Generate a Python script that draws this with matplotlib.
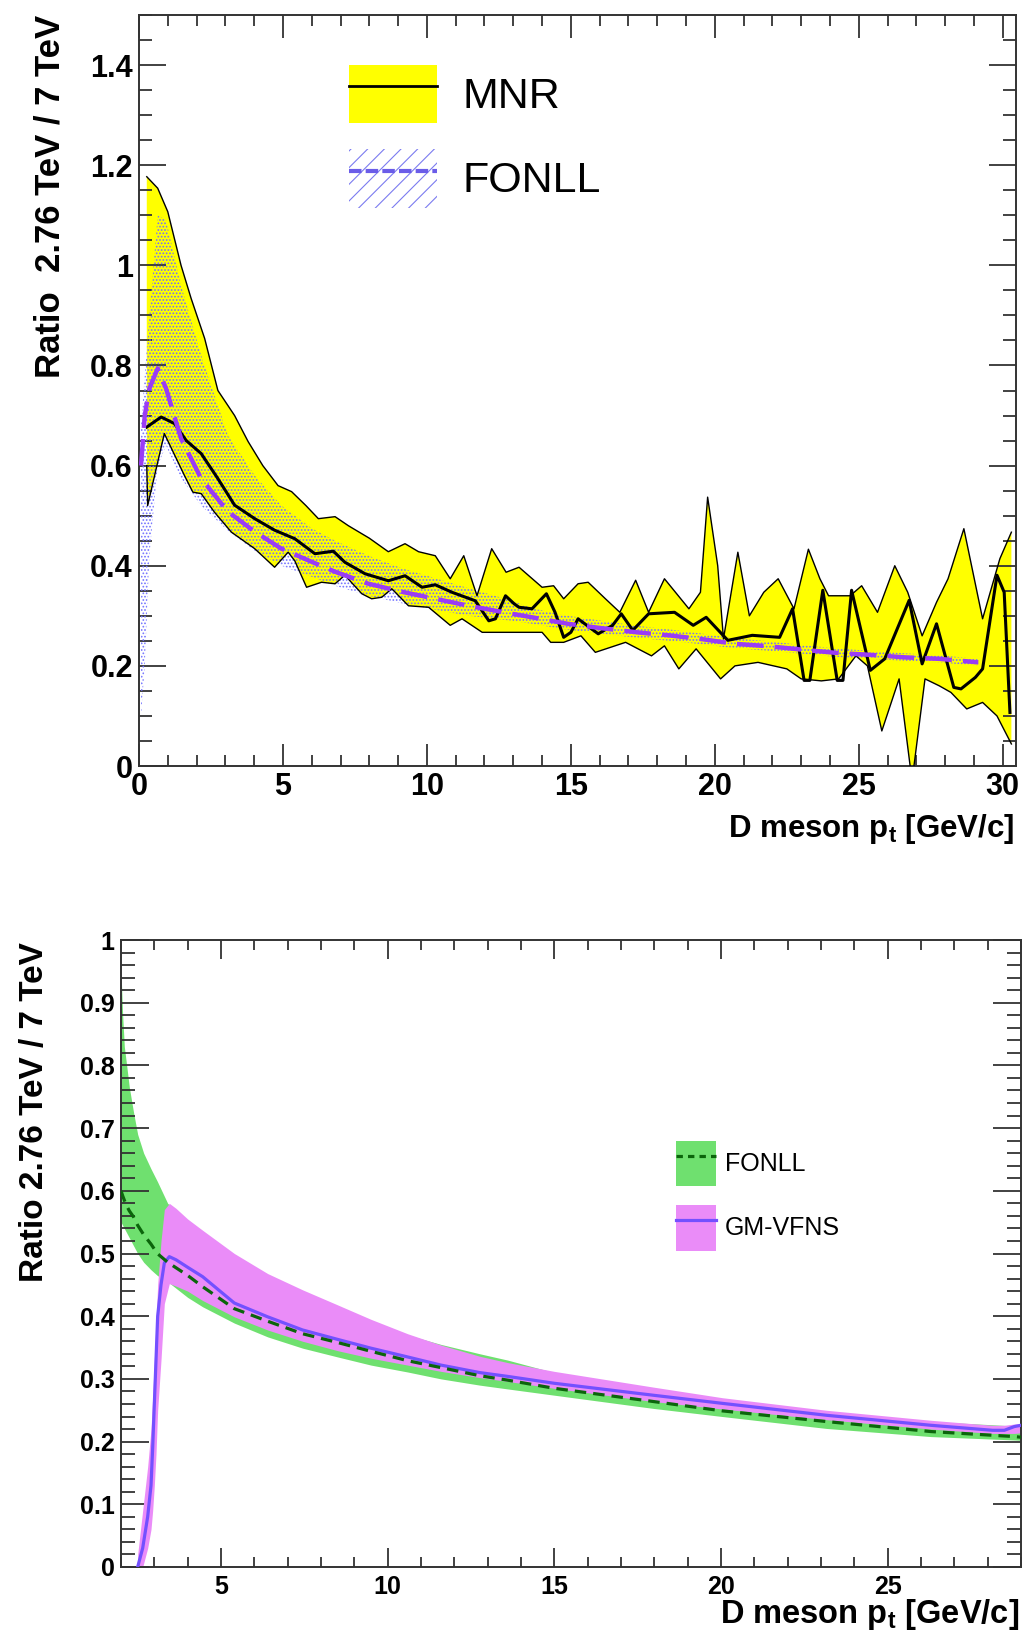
# ratio 2.76 TeV / 7 TeV, dos paneles estilo ROOT
import numpy as np
import matplotlib
matplotlib.use('Agg')
import matplotlib.pyplot as plt
from matplotlib.ticker import MultipleLocator, FormatStrFormatter
from matplotlib.patches import Patch
from matplotlib.lines import Line2D

plt.rcParams['font.family'] = 'Liberation Sans'
plt.rcParams['mathtext.fontset'] = 'custom'
plt.rcParams['mathtext.rm'] = 'Liberation Sans:bold'
plt.rcParams['mathtext.it'] = 'Liberation Sans:bold'
plt.rcParams['mathtext.bf'] = 'Liberation Sans:bold'
plt.rcParams['hatch.linewidth'] = 0.8

# ---------------- panel superior: MNR vs FONLL ----------------
# banda MNR, borde superior
mnr_up_x = [0.27, 0.65, 1.0, 1.46, 1.81, 2.28, 2.74, 3.32, 3.79, 4.3, 4.83, 5.3, 5.8, 6.23, 6.81,
            7.27, 8.0, 8.66, 9.24, 9.71, 10.29, 10.81, 11.28, 11.74, 12.25, 12.75, 13.2, 14.0, 14.4,
            14.75, 15.25, 15.6, 16.2, 16.7, 17.25, 17.7, 18.25, 19.1, 19.5, 19.75, 20.1, 20.3, 20.8,
            21.2, 21.7, 22.2, 22.75, 23.25, 23.65, 23.95, 24.7, 25.1, 25.65, 26.25, 26.7, 27.2, 27.7,
            28.1, 28.65, 29.3, 29.9, 30.3]
mnr_up_y = [1.177, 1.154, 1.107, 1.0, 0.934, 0.854, 0.75, 0.70, 0.648, 0.60, 0.56, 0.548, 0.52, 0.494,
            0.498, 0.48, 0.455, 0.428, 0.444, 0.428, 0.42, 0.374, 0.42, 0.34, 0.434, 0.387, 0.397,
            0.357, 0.36, 0.334, 0.364, 0.367, 0.334, 0.307, 0.371, 0.307, 0.374, 0.314, 0.347, 0.537,
            0.40, 0.254, 0.427, 0.30, 0.347, 0.374, 0.314, 0.433, 0.374, 0.34, 0.34, 0.36, 0.307, 0.40,
            0.347, 0.26, 0.327, 0.374, 0.474, 0.294, 0.414, 0.467]
# banda MNR, borde inferior
mnr_lo_x = [0.27, 0.30, 0.88, 1.58, 1.87, 2.16, 2.62, 3.21, 4.02, 4.71, 5.18, 5.41, 5.82, 6.34, 6.81,
            7.15, 7.74, 8.08, 8.43, 8.78, 9.36, 10.06, 10.81, 11.22, 11.92, 14.0, 14.3, 14.75, 15.35,
            15.85, 16.9, 17.8, 18.25, 18.75, 19.35, 20.2, 20.7, 21.5, 22.5, 23.0, 23.7, 24.3, 24.9,
            25.3, 25.8, 26.4, 26.85, 27.3, 27.8, 28.2, 28.75, 29.3, 29.8, 30.3]
mnr_lo_y = [0.60, 0.52, 0.664, 0.58, 0.547, 0.544, 0.507, 0.467, 0.434, 0.397, 0.427, 0.41, 0.357,
            0.367, 0.364, 0.381, 0.344, 0.334, 0.337, 0.354, 0.32, 0.317, 0.281, 0.294, 0.267, 0.267,
            0.247, 0.247, 0.26, 0.227, 0.247, 0.22, 0.24, 0.194, 0.234, 0.174, 0.20, 0.207, 0.194,
            0.174, 0.17, 0.174, 0.22, 0.20, 0.07, 0.174, -0.03, 0.174, 0.16, 0.147, 0.114, 0.127,
            0.10, 0.044]
# MNR central
mnr_x = [0.27, 0.77, 1.23, 1.64, 2.16, 2.74, 3.32, 4.02, 4.71, 5.41, 6.11, 6.75, 7.15, 7.85, 8.66,
         9.24, 9.83, 10.29, 10.87, 11.68, 12.15, 12.38, 12.73, 13.03, 13.2, 13.65, 14.15, 14.45,
         14.75, 15.0, 15.25, 15.95, 16.45, 16.75, 17.15, 17.7, 18.6, 19.25, 19.7, 20.45, 21.3,
         22.25, 22.7, 23.1, 23.3, 23.75, 24.25, 24.45, 24.75, 25.4, 25.9, 26.75, 27.2, 27.7, 28.3,
         28.55, 29.05, 29.3, 29.8, 30.05, 30.25]
mnr_y = [0.677, 0.697, 0.684, 0.65, 0.624, 0.574, 0.521, 0.494, 0.471, 0.454, 0.424, 0.429, 0.407,
         0.384, 0.37, 0.38, 0.357, 0.362, 0.347, 0.33, 0.29, 0.294, 0.34, 0.324, 0.317, 0.314, 0.344,
         0.307, 0.257, 0.267, 0.294, 0.264, 0.281, 0.304, 0.271, 0.304, 0.307, 0.281, 0.297, 0.251,
         0.261, 0.257, 0.314, 0.171, 0.171, 0.351, 0.171, 0.171, 0.351, 0.191, 0.214, 0.331, 0.204,
         0.284, 0.157, 0.154, 0.177, 0.194, 0.381, 0.347, 0.107]
# FONLL (panel superior)
fonll1_x = [0.07, 0.2, 0.36, 0.65, 0.94, 1.46, 2.16, 3.09, 4.02, 4.95, 5.99, 6.81, 7.97, 9.13, 10.29,
            11.45, 12.96, 13.65, 14.9, 16.1, 17.3, 18.4, 19.6, 20.7, 21.9, 23.1, 24.2, 25.4, 26.6,
            27.8, 29.15]
fonll1_c = [0.60, 0.70, 0.754, 0.794, 0.754, 0.654, 0.574, 0.508, 0.468, 0.434, 0.408, 0.388, 0.364,
            0.348, 0.334, 0.32, 0.304, 0.297, 0.284, 0.275, 0.267, 0.261, 0.253, 0.244, 0.239, 0.232,
            0.226, 0.222, 0.217, 0.214, 0.207]
fonll1_lo = [0.10, 0.20, 0.42, 0.60, 0.64, 0.575, 0.52, 0.47, 0.43, 0.40, 0.378, 0.36, 0.34, 0.325,
             0.312, 0.30, 0.29, 0.284, 0.272, 0.264, 0.256, 0.25, 0.243, 0.235, 0.23, 0.224, 0.218,
             0.214, 0.21, 0.207, 0.20]
fonll1_hi = [0.68, 0.78, 0.90, 1.10, 1.09, 0.96, 0.82, 0.66, 0.58, 0.52, 0.475, 0.45, 0.42, 0.395,
             0.375, 0.355, 0.33, 0.315, 0.30, 0.29, 0.28, 0.273, 0.264, 0.255, 0.249, 0.241, 0.235,
             0.23, 0.225, 0.221, 0.214]

# ---------------- panel inferior: FONLL vs GM-VFNS ----------------
fonll2_x = [2.0, 2.05, 2.1, 2.17, 2.25, 2.38, 2.5, 2.68, 2.9, 3.09, 3.4, 4.0, 4.45, 5.4, 6.4, 7.45,
            8.5, 9.5, 10.6, 11.6, 12.77, 13.6, 15.0, 17.96, 20.04, 23.16, 26.3, 28.8, 29.0]
fonll2_c = [0.60, 0.592, 0.585, 0.576, 0.568, 0.558, 0.545, 0.53, 0.515, 0.50, 0.486, 0.465, 0.447,
            0.412, 0.392, 0.372, 0.358, 0.344, 0.329, 0.318, 0.305, 0.298, 0.285, 0.264, 0.249,
            0.232, 0.216, 0.208, 0.207]
fonll2_lo = [0.55, 0.545, 0.54, 0.533, 0.525, 0.512, 0.50, 0.486, 0.474, 0.465, 0.455, 0.43, 0.415,
             0.389, 0.367, 0.349, 0.335, 0.322, 0.311, 0.30, 0.29, 0.284, 0.274, 0.253, 0.24, 0.221,
             0.208, 0.2026, 0.202]
fonll2_hi = [0.95, 0.88, 0.83, 0.80, 0.765, 0.724, 0.69, 0.66, 0.635, 0.615, 0.58, 0.55, 0.53, 0.49,
             0.46, 0.435, 0.41, 0.39, 0.37, 0.355, 0.34, 0.33, 0.31, 0.285, 0.268, 0.248, 0.232,
             0.225, 0.225]
gm_x = [2.5, 2.65, 2.8, 2.9, 2.95, 3.0, 3.05, 3.1, 3.2, 3.3, 3.45, 3.65, 4.0, 4.45, 5.4, 6.4, 7.45,
        8.5, 9.5, 10.6, 11.6, 12.77, 13.6, 15.0, 17.96, 20.04, 23.16, 26.3, 28.15, 28.5, 28.8, 29.0]
gm_c = [0.0, 0.03, 0.08, 0.13, 0.19, 0.26, 0.33, 0.40, 0.45, 0.485, 0.495, 0.49, 0.478, 0.463, 0.421,
        0.399, 0.378, 0.363, 0.349, 0.335, 0.322, 0.31, 0.304, 0.293, 0.274, 0.261, 0.242, 0.226,
        0.218, 0.218, 0.224, 0.226]
gm_lo = [0.0, 0.0, 0.03, 0.06, 0.09, 0.13, 0.18, 0.25, 0.33, 0.42, 0.452, 0.448, 0.44, 0.425, 0.399,
         0.378, 0.36, 0.345, 0.333, 0.322, 0.312, 0.302, 0.296, 0.285, 0.264, 0.252, 0.235, 0.22,
         0.213, 0.213, 0.213, 0.214]
gm_hi = [0.02, 0.09, 0.16, 0.22, 0.27, 0.33, 0.39, 0.45, 0.52, 0.57, 0.58, 0.572, 0.555, 0.537, 0.50,
         0.468, 0.442, 0.418, 0.395, 0.372, 0.354, 0.336, 0.326, 0.312, 0.287, 0.27, 0.25, 0.234,
         0.226, 0.226, 0.228, 0.229]

XLABEL = r'D meson p$_{\mathrm{t}}$ [GeV/c]'


def root_axes(ax, xmaj, xmin, ymaj, ymin, xlen, ylen, fs, xpad=4):
    # ticks hacia dentro en los cuatro lados, como ROOT
    ax.xaxis.set_major_locator(MultipleLocator(xmaj))
    ax.xaxis.set_minor_locator(MultipleLocator(xmin))
    ax.yaxis.set_major_locator(MultipleLocator(ymaj))
    ax.yaxis.set_minor_locator(MultipleLocator(ymin))
    ax.xaxis.set_major_formatter(FormatStrFormatter('%g'))
    ax.yaxis.set_major_formatter(FormatStrFormatter('%g'))
    ax.tick_params(which='both', direction='in', top=True, right=True, width=1.3, color='#333333')
    ax.tick_params(axis='x', which='major', length=xlen, pad=xpad)
    ax.tick_params(axis='x', which='minor', length=xlen / 2)
    ax.tick_params(axis='y', which='major', length=ylen, pad=4.5)
    ax.tick_params(axis='y', which='minor', length=ylen / 2)
    for lab in ax.get_xticklabels() + ax.get_yticklabels():
        lab.set_fontsize(fs)
        lab.set_fontweight('bold')
    for s in ax.spines.values():
        s.set_linewidth(1.4)
        s.set_color('#333333')


def top_panel(fig):
    ax = fig.add_axes([139 / 1024, 1 - 766 / 1643, 876.7 / 1024, 751 / 1643])
    poly_x = np.concatenate([mnr_up_x, mnr_lo_x[::-1]])
    poly_y = np.concatenate([mnr_up_y, mnr_lo_y[::-1]])
    ax.fill(poly_x, poly_y, color='#ffff00', lw=0, zorder=1)
    ax.plot(mnr_up_x, mnr_up_y, color='black', lw=1.0, zorder=3)
    ax.plot(mnr_lo_x, mnr_lo_y, color='black', lw=1.0, zorder=3)
    # relleno punteado de FONLL
    ax.fill_between(fonll1_x, fonll1_lo, fonll1_hi, facecolor='none', edgecolor='#7070ff',
                    hatch='.....', linewidth=0, zorder=2)
    ax.plot(mnr_x, mnr_y, color='black', lw=2.2, zorder=4)
    ax.plot(fonll1_x, fonll1_c, color='#9a3cf5', lw=3.2, dashes=(6, 2.5), zorder=5)

    ax.set_xlim(0, 30.45)
    ax.set_ylim(0, 1.5)
    root_axes(ax, 5, 1, 0.2, 0.05, 16.2, 19.4, 22)

    h_mnr = (Patch(facecolor='#ffff00', lw=0), Line2D([], [], color='black', lw=2))
    h_fon = (Patch(facecolor='white', edgecolor='#7b7bf0', hatch='//', lw=0),
             Line2D([], [], color='#6a5ce8', lw=3, dashes=(3, 1)))
    ax.legend([h_mnr, h_fon], ['MNR', 'FONLL'], loc='upper left', bbox_to_anchor=(0.2395, 0.934),
              frameon=False, fontsize=31, handlelength=2.05, handleheight=1.72,
              labelspacing=0.6, handletextpad=0.58, borderpad=0, borderaxespad=0)

    fig.text(60 / 1024, 1 - 15 / 1643, 'Ratio  2.76 TeV / 7 TeV', rotation=90,
             rotation_mode='anchor', ha='right', va='baseline', fontsize=25, fontweight='bold')
    fig.text(1014.7 / 1024, 1 - 836.7 / 1643, XLABEL, ha='right', va='baseline',
             fontsize=22.5, fontweight='bold')


def bottom_panel(fig):
    ax = fig.add_axes([121 / 1024, 1 - 1567 / 1643, 900 / 1024, 627 / 1643])
    ax.fill_between(fonll2_x, fonll2_lo, fonll2_hi, color='#6fe06f', lw=0, zorder=1)
    ax.fill_between(gm_x, gm_lo, gm_hi, color='#ea8cf8', lw=0, zorder=2)
    ax.plot(gm_x, gm_c, color='#7350ff', lw=2.3, zorder=3)
    ax.plot(fonll2_x, fonll2_c, color='#0b650b', lw=2.3, dashes=(3.6, 2.2), zorder=4)

    ax.set_xlim(2, 29)
    ax.set_ylim(0, 1)
    root_axes(ax, 5, 1, 0.1, 0.02, 14, 20, 18, xpad=6)

    h_fon = (Patch(facecolor='#6fe06f', lw=0), Line2D([], [], color='#0b650b', lw=2.3, dashes=(2, 1.6)))
    h_gm = (Patch(facecolor='#ea8cf8', lw=0), Line2D([], [], color='#7350ff', lw=2.3))
    ax.legend([h_fon, h_gm], ['FONLL', 'GM-VFNS'], loc='upper left', bbox_to_anchor=(0.6167, 0.68),
              frameon=False, fontsize=18, handlelength=1.6, handleheight=2.42,
              labelspacing=0.76, handletextpad=0.36, borderpad=0, borderaxespad=0)

    fig.text(43 / 1024, 1 - 942 / 1643, 'Ratio 2.76 TeV / 7 TeV', rotation=90,
             rotation_mode='anchor', ha='right', va='baseline', fontsize=24, fontweight='bold')
    fig.text(1019 / 1024, 1 - 1623 / 1643, XLABEL, ha='right', va='baseline',
             fontsize=23.5, fontweight='bold')


def run():
    fig = plt.figure(figsize=(10.24, 16.43), dpi=100)
    top_panel(fig)
    bottom_panel(fig)
    fig.savefig('out.png', dpi=100)
    plt.close(fig)


if __name__ == '__main__':
    run()
